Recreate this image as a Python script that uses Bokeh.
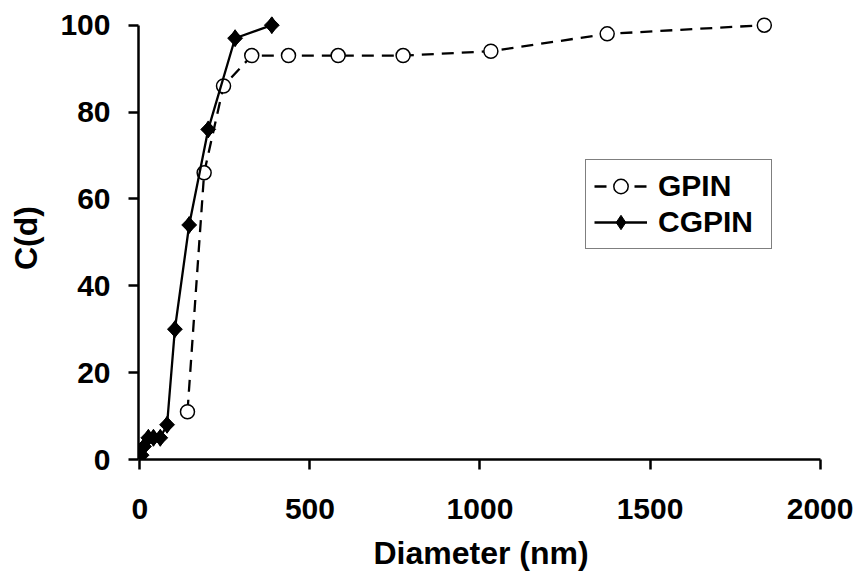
import math
from bokeh.plotting import figure
from bokeh.models import Range1d, FixedTicker, Legend, LegendItem
from bokeh.embed import file_html
from bokeh.resources import INLINE

# Data
gpin_x = [140, 189, 246, 329, 437, 583, 774, 1032, 1374, 1836]
gpin_y = [11, 66, 86, 93, 93, 93, 93, 94, 98, 100]
cgpin_x = [5, 12, 25, 40, 60, 80, 103, 145, 201, 280, 388]
cgpin_y = [1, 3, 5, 5, 5, 8, 30, 54, 76, 97, 100]
x_ticks = [0, 500, 1000, 1500, 2000]
y_ticks = [0, 20, 40, 60, 80, 100]

FONT = "Liberation Sans"

p = figure(width=860, height=573, output_backend="svg", toolbar_location=None,
           x_range=Range1d(-4, 2010), y_range=Range1d(0, 102),
           min_border_left=138, min_border_right=37,
           min_border_top=16, min_border_bottom=113)

p.background_fill_color = "white"
p.border_fill_color = "white"
p.outline_line_color = None
p.xgrid.visible = False
p.ygrid.visible = False

l1 = p.line(gpin_x, gpin_y, line_color="black", line_width=2.3, line_dash="12 8")
s1 = p.scatter(gpin_x, gpin_y, marker="circle", size=14, fill_color="white",
               line_color="black", line_width=1.5)
l2 = p.line(cgpin_x, cgpin_y, line_color="black", line_width=2.3)
s2d = p.scatter(cgpin_x, cgpin_y, marker="diamond", size=17,
                fill_color="black", line_color="black", line_width=1)
s2 = p.scatter(cgpin_x, cgpin_y, marker="square", size=10.5, angle=math.pi / 4,
               fill_color="black", line_color="black", line_width=1)

for ax in (p.xaxis[0], p.yaxis[0]):
    ax.axis_line_width = 2.5
    ax.axis_line_color = "black"
    ax.major_tick_line_width = 2.5
    ax.major_tick_line_color = "black"
    ax.major_tick_out = 10
    ax.major_tick_in = 0
    ax.minor_tick_line_color = None
    ax.major_label_text_font = FONT
    ax.major_label_text_font_style = "bold"
    ax.major_label_text_font_size = "30px"
    ax.major_label_text_color = "black"
    ax.axis_label_text_font = FONT
    ax.axis_label_text_font_style = "bold"
    ax.axis_label_text_font_size = "32px"
    ax.axis_label_text_color = "black"

p.xaxis[0].ticker = FixedTicker(ticks=x_ticks)
p.yaxis[0].ticker = FixedTicker(ticks=y_ticks)
p.xaxis[0].bounds = (0, 2000)
p.yaxis[0].bounds = (0, 100)
p.xaxis[0].axis_label = "Diameter (nm)"
p.yaxis[0].axis_label = "C(d)"
p.xaxis[0].major_label_standoff = 29
p.xaxis[0].axis_label_standoff = 13
p.yaxis[0].major_label_standoff = 18
p.yaxis[0].axis_label_standoff = 13

legend = Legend(items=[LegendItem(label="GPIN", renderers=[l1, s1]),
                       LegendItem(label="CGPIN", renderers=[l2, s2d])],
                location=(447, 210), margin=0, padding=8, spacing=0,
                glyph_width=53, glyph_height=36, label_height=36,
                label_width=105, label_standoff=11,
                label_text_font=FONT, label_text_font_style="bold",
                label_text_font_size="30px", label_text_color="black",
                border_line_color="black", border_line_width=1.2,
                background_fill_color="white", background_fill_alpha=1)
p.add_layout(legend, "center")

open("out.html", "w").write(file_html(p, INLINE))
